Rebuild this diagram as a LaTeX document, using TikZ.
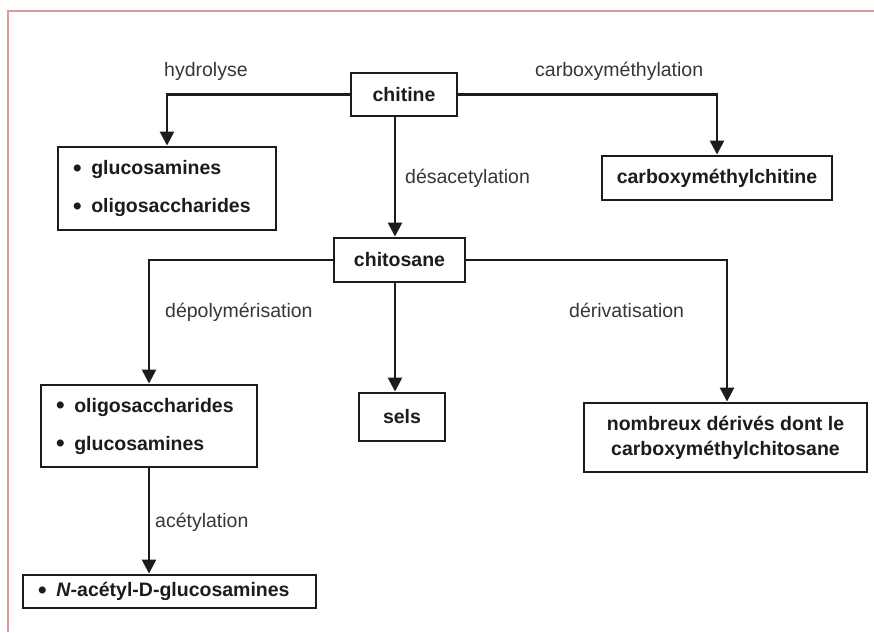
\documentclass[tikz,border=0pt]{standalone}
\usepackage{fontspec}
\usepackage{graphicx}
\setmainfont{Liberation Sans}
\usetikzlibrary{arrows.meta}
\definecolor{ink}{RGB}{28,28,28}
\definecolor{labelgray}{RGB}{55,55,55}
\definecolor{frame}{RGB}{222,150,150}
\newcommand{\bul}{\raisebox{-0.1em}{\scalebox{1.25}{\textbullet}}\hspace{0.5em}}
\tikzset{
  box/.style={draw=ink, line width=2.9pt, inner sep=0pt, text=ink,
    font=\bfseries\fontsize{19.5}{38}\selectfont},
  listbox/.style={box, align=left, inner xsep=15pt, inner ysep=0pt},
  arr/.style={draw=ink, line width=2.6pt, -{Triangle[length=14pt,width=14pt]}},
  lbl/.style={anchor=base west, inner sep=0pt, text=labelgray,
    font=\fontsize{19.5}{23}\selectfont}
}
\begin{document}
\begin{tikzpicture}[x=1pt,y=-1pt]
\useasboundingbox (0,0) rectangle (874,632);
\fill[white] (0,0) rectangle (874,632);
\draw[frame, line width=1.2pt] (8,632) -- (8,11) -- (874,11);

% boxes
\node[box, minimum width=106pt, minimum height=43pt] (chitine) at (404,94.5) {chitine};
\node[box, minimum width=131pt, minimum height=44pt] (chitosane) at (399.5,260) {chitosane};
\node[listbox, text width=188pt, minimum height=83pt] (gluA) at (167,188.5)
  {\bul glucosamines\\\bul oligosaccharides};
\node[box, minimum width=230pt, minimum height=44pt] (cmc) at (717,178) {carboxyméthylchitine};
\node[listbox, text width=186pt, minimum height=82pt] (oligB) at (149,426)
  {\bul oligosaccharides\\\bul glucosamines};
\node[box, minimum width=86pt, minimum height=48pt] (sels) at (402,417) {sels};
\node[box, align=center, minimum width=283pt, minimum height=69pt,
  font=\bfseries\fontsize{19.5}{25}\selectfont] (nomb) at (725.5,437.5)
  {nombreux dérivés dont le\\carboxyméthylchitosane};
\node[listbox, text width=263pt, minimum height=33pt] (nac) at (169.5,591.5)
  {\bul\textit{N}-acétyl-D-glucosamines};

% helper coordinates for off-centre vertical lines
\coordinate (vmid) at (395,0);
\coordinate (vleft) at (149,0);
\coordinate (vright) at (727,0);

% connectors
\draw[arr] (chitine.west) -| (gluA.north);
\draw[arr] (chitine.east) -| (cmc.north);
\draw[arr] (chitine.south -| vmid) -- (chitosane.north -| vmid);
\draw[arr] (chitosane.west) -| (oligB.north);
\draw[arr] (chitosane.east) -| (nomb.north -| vright);
\draw[arr] (chitosane.south -| vmid) -- (sels.north -| vmid);
\draw[arr] (oligB.south -| vleft) -- (nac.north -| vleft);

% labels
\node[lbl] (lhyd) at (164,76) {hydrolyse};
\node[lbl] (lcarb) at (535,76) {carboxyméthylation};
\node[lbl] (ldes) at (405,183) {désacetylation};
\node[lbl] (ldep) at (165,317) {dépolymérisation};
\node[lbl] (lder) at (569,317) {dérivatisation};
\node[lbl] (lacet) at (155,527) {acétylation};
\end{tikzpicture}
\end{document}
